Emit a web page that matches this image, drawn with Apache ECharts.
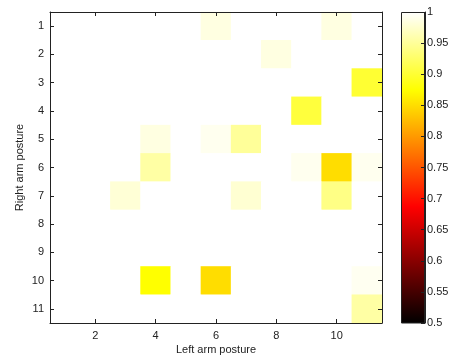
<!DOCTYPE html>
<html>
<head>
<meta charset="utf-8">
<script src="https://cdn.jsdelivr.net/npm/echarts@6/dist/echarts.min.js"></script>
<style>
html,body{margin:0;padding:0;background:#fff;}
#chart{width:455px;height:358px;}
</style>
</head>
<body>
<div id="chart"></div>
<script>
// postures 1..11 on both axes
var leftPosture = ['1','2','3','4','5','6','7','8','9','10','11'];
var rightPosture = ['1','2','3','4','5','6','7','8','9','10','11'];
// rows = right arm posture, cols = left arm posture
var row1  = [1,1,1,1,1,0.985,1,1,1,0.985,1];
var row2  = [1,1,1,1,1,1,1,0.985,1,1,1];
var row3  = [1,1,1,1,1,1,1,1,1,1,0.90];
var row4  = [1,1,1,1,1,1,1,1,0.905,1,1];
var row5  = [1,1,1,0.985,1,0.992,0.95,1,1,1,1];
var row6  = [1,1,1,0.955,1,1,1,1,0.992,0.85,0.992];
var row7  = [1,1,0.98,1,1,1,0.978,1,1,0.94,1];
var row8  = [1,1,1,1,1,1,1,1,1,1,1];
var row9  = [1,1,1,1,1,1,1,1,1,1,1];
var row10 = [1,1,1,0.875,1,0.85,1,1,1,1,0.993];
var row11 = [1,1,1,1,1,1,1,1,1,1,0.955];
var rows = [row1,row2,row3,row4,row5,row6,row7,row8,row9,row10,row11];
var cbarMin = 0.5, cbarMax = 1, cbarStep = 0.05;

// hot colormap
var hotColors = ['#000000','#550000','#aa0000','#ff0000','#ff5500','#ffaa00','#ffff00','#ffff80','#ffffff'];

var data = [];
for(var r=0;r<rows.length;r++){
	for(var c=0;c<rows[r].length;c++){
		data.push([c, r, rows[r][c]]);
	}
}

var txt = {color:'#222', fontFamily:'Liberation Sans, Arial, sans-serif', fontSize:11};
var line = {show:true, lineStyle:{color:'#222', width:1}};
var evenOnly = function(i){return i%2===1;};

var chart = echarts.init(document.getElementById('chart'));
var option = {
	animation:false,
	grid:[
		{left:50, top:12, width:332, height:311, outerBoundsMode:'none', containLabel:false},
		{left:401, top:12, width:24, height:311, outerBoundsMode:'none', containLabel:false}
	],
	xAxis:[
		{
			type:'category', gridIndex:0, data:leftPosture, position:'bottom', z:10,
			name:'Left arm posture', nameLocation:'middle', nameGap:21, nameMoveOverlap:false, nameTextStyle:txt,
			axisLine:line,
			axisTick:{show:true, inside:true, length:4, alignWithLabel:true, interval:evenOnly, lineStyle:{color:'#222'}},
			axisLabel:Object.assign({margin:7, interval:evenOnly}, txt),
			splitLine:{show:false}
		},
		{
			type:'category', gridIndex:0, data:leftPosture, position:'top', z:10,
			axisLine:line,
			axisTick:{show:true, inside:true, length:4, alignWithLabel:true, interval:evenOnly, lineStyle:{color:'#222'}},
			axisLabel:{show:false}, splitLine:{show:false}
		},
		{
			type:'category', gridIndex:1, data:[''],
			axisLine:{show:false}, axisTick:{show:false}, axisLabel:{show:false}
		}
	],
	yAxis:[
		{
			type:'category', gridIndex:0, data:rightPosture, inverse:true, position:'left', z:10,
			name:'Right arm posture', nameLocation:'middle', nameGap:25, nameMoveOverlap:false, nameRotate:90, nameTextStyle:txt,
			axisLine:line,
			axisTick:{show:true, inside:true, length:4, alignWithLabel:true, interval:0, lineStyle:{color:'#222'}},
			axisLabel:Object.assign({margin:6, interval:0}, txt),
			splitLine:{show:false}
		},
		{
			type:'category', gridIndex:0, data:rightPosture, inverse:true, position:'right', z:10,
			axisLine:line,
			axisTick:{show:true, inside:true, length:4, alignWithLabel:true, interval:0, lineStyle:{color:'#222'}},
			axisLabel:{show:false}, splitLine:{show:false}
		},
		{
			type:'value', gridIndex:1, position:'right', min:cbarMin, max:cbarMax, interval:cbarStep, z:10,
			axisLine:line,
			axisTick:{show:true, inside:true, length:4, lineStyle:{color:'#222'}},
			axisLabel:Object.assign({margin:2, formatter:function(v){return +v.toFixed(2)+'';}}, txt),
			splitLine:{show:false}
		}
	],
	visualMap:{
		show:false, min:cbarMin, max:cbarMax, seriesIndex:0, dimension:2,
		inRange:{color:hotColors}
	},
	series:[
		{
			type:'heatmap', xAxisIndex:0, yAxisIndex:0, data:data,
			itemStyle:{borderWidth:0},
			emphasis:{disabled:true}
		},
		{
			type:'bar', xAxisIndex:2, yAxisIndex:2, data:[cbarMax], barWidth:'100%',
			silent:true,
			itemStyle:{
				borderColor:'#222', borderWidth:1,
				color:new echarts.graphic.LinearGradient(0,0,0,1,[
					{offset:0, color:'#ffffff'},
					{offset:0.25, color:'#ffff00'},
					{offset:0.625, color:'#ff0000'},
					{offset:1, color:'#000000'}
				])
			}
		}
	]
};
chart.setOption(option);
</script>
</body>
</html>
